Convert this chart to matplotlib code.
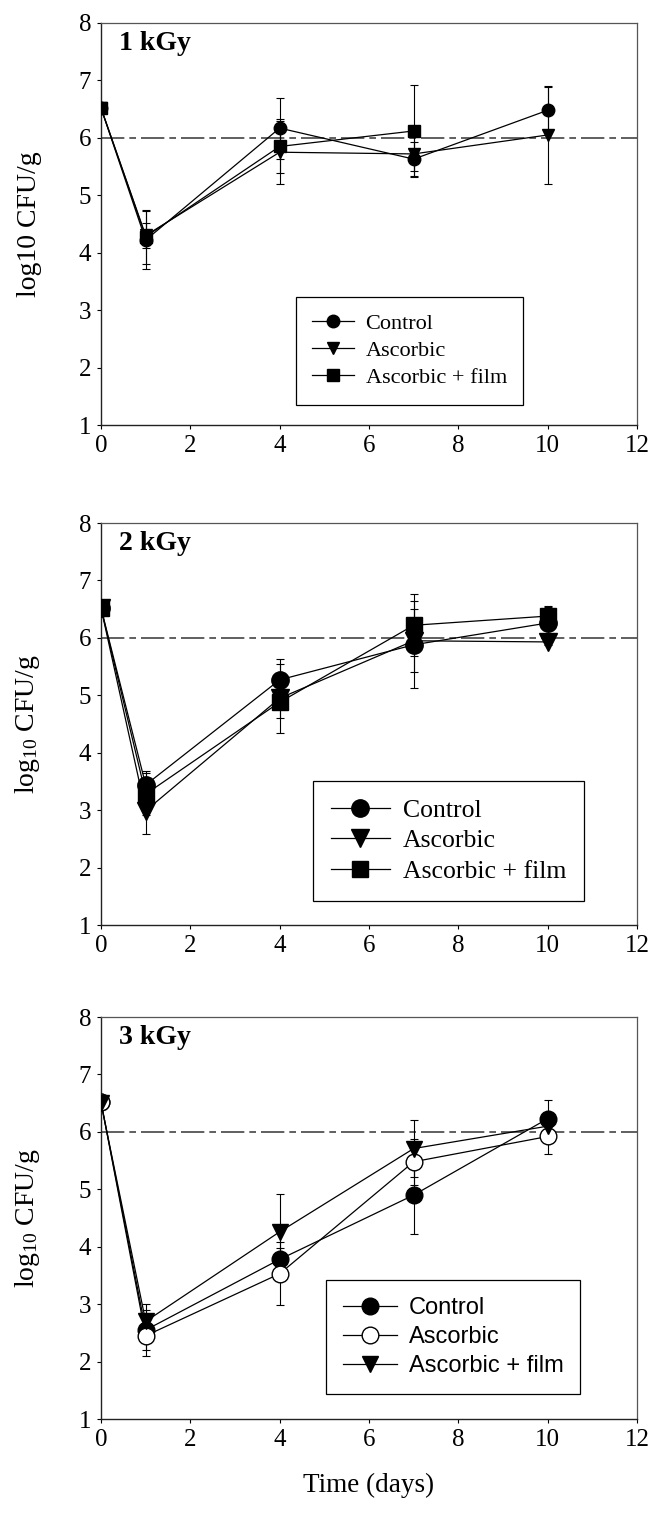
import numpy as np
import matplotlib
matplotlib.use("Agg")
import matplotlib.pyplot as plt

plt.rcParams['font.family'] = ['Liberation Serif', 'DejaVu Serif']
plt.rcParams['mathtext.fontset'] = 'custom'
plt.rcParams['mathtext.rm'] = 'Liberation Serif'
plt.rcParams['mathtext.it'] = 'Liberation Serif:italic'

days = [0, 1, 4, 7, 10]

# 1 kGy
k1_control = [6.52, 4.22, 6.17, 5.63, 6.48]
k1_control_err = [0.0, 0.50, 0.53, 0.30, 0.40]
k1_ascorbic = [6.52, 4.30, 5.75, 5.72, 6.05]
k1_ascorbic_err = [0.0, 0.22, 0.55, 0.30, 0.85]
k1_film = [6.52, 4.28, 5.85, 6.12, np.nan]
k1_film_err = [0.0, 0.47, 0.47, 0.80, np.nan]

# 2 kGy
k2_control = [6.52, 3.44, 5.27, 5.88, 6.26]
k2_control_err = [0.0, 0.25, 0.36, 0.76, 0.30]
k2_ascorbic = [6.52, 2.99, 4.95, 5.95, 5.93]
k2_ascorbic_err = [0.0, 0.40, 0.60, 0.55, 0.05]
k2_film = [6.52, 3.28, 4.88, 6.22, 6.38]
k2_film_err = [0.0, 0.37, 0.28, 0.54, 0.15]

# 3 kGy
k3_control = [6.52, 2.55, 3.78, 4.90, 6.23]
k3_control_err = [0.0, 0.35, 0.20, 0.68, 0.32]
k3_ascorbic = [6.52, 2.45, 3.53, 5.48, 5.92]
k3_ascorbic_err = [0.0, 0.35, 0.55, 0.40, 0.30]
k3_film = [6.50, 2.70, 4.26, 5.71, 6.10]
k3_film_err = [0.0, 0.30, 0.66, 0.50, 0.10]

labels = ['Control', 'Ascorbic', 'Ascorbic + film']
doses = ['1 kGy', '2 kGy', '3 kGy']
limit_line = 6.0

fig = plt.figure(figsize=(6.65, 15.13), dpi=100)

panels = [
    dict(bottom=0.7191, dose=doses[0], ylab='log10 CFU/g',
         series=[(k1_control, k1_control_err, 'o', 'black'),
                 (k1_ascorbic, k1_ascorbic_err, 'v', 'black'),
                 (k1_film, k1_film_err, 's', 'black')],
         ms=[9, 9, 8], leg=(0.363, 0.05), legfont='Liberation Serif',
         legsize=16, lspace=0.3, hlen=1.9, bpad=0.75),
    dict(bottom=0.3886, dose=doses[1], ylab=r'log$_{10}$ CFU/g',
         series=[(k2_control, k2_control_err, 'o', 'black'),
                 (k2_ascorbic, k2_ascorbic_err, 'v', 'black'),
                 (k2_film, k2_film_err, 's', 'black')],
         ms=[12.5, 12.5, 11], leg=(0.395, 0.06), legfont='Liberation Serif',
         legsize=18.5, lspace=0.3, hlen=2.3, bpad=0.7),
    dict(bottom=0.0621, dose=doses[2], ylab=r'log$_{10}$ CFU/g',
         series=[(k3_control, k3_control_err, 'o', 'black'),
                 (k3_ascorbic, k3_ascorbic_err, 'o', 'white'),
                 (k3_film, k3_film_err, 'v', 'black')],
         ms=[12, 12, 12], leg=(0.42, 0.063), legfont='Liberation Sans',
         legsize=17, lspace=0.3, hlen=2.3, bpad=0.7),
]

for i, p in enumerate(panels):
    ax = fig.add_axes([0.1519, p['bottom'], 0.806, 0.2657])
    ax.axhline(limit_line, color='#444444', lw=1.2, ls=(0, (14, 3, 4, 3)), zorder=1)
    handles = []
    for (vals, errs, mk, fc), ms, lab in zip(p['series'], p['ms'], labels):
        ax.errorbar(days, vals, yerr=errs, fmt='none', ecolor='black',
                    elinewidth=0.8, capsize=3, capthick=0.8, zorder=2)
        h, = ax.plot(days, vals, '-', color='black', lw=0.9, marker=mk, ms=ms,
                     mfc=fc, mec='black', mew=1.0, label=lab, zorder=3)
        handles.append(h)

    ax.set_xlim(0, 12)
    ax.set_ylim(1, 8)
    ax.set_xticks(range(0, 13, 2))
    ax.set_yticks(range(1, 9))
    ax.tick_params(direction='out', length=3, width=0.8, labelsize=18,
                   top=False, right=False, pad=4)
    for s in ['left', 'bottom']:
        ax.spines[s].set_color('#222222')
        ax.spines[s].set_linewidth(1.0)
    for s in ['top', 'right']:
        ax.spines[s].set_color('#555555')
        ax.spines[s].set_linewidth(0.9)

    ax.set_ylabel(p['ylab'], fontsize=20)
    ax.yaxis.set_label_coords(-0.11, 0.5)

    ax.text(0.034, 0.948, p['dose'], transform=ax.transAxes, fontsize=20,
            fontweight='bold', ha='left', va='center')

    leg = ax.legend(handles=handles, loc='lower left', bbox_to_anchor=p['leg'],
                    borderaxespad=0, fancybox=False, framealpha=1,
                    edgecolor='black', handlelength=p['hlen'], handletextpad=0.5,
                    labelspacing=p['lspace'], borderpad=p['bpad'],
                    prop={'family': p['legfont'], 'size': p['legsize']})
    leg.get_frame().set_linewidth(0.9)

    if i == 2:
        ax.set_xlabel('Time (days)', fontsize=19.5, labelpad=16)

fig.savefig('out.png', dpi=100)
